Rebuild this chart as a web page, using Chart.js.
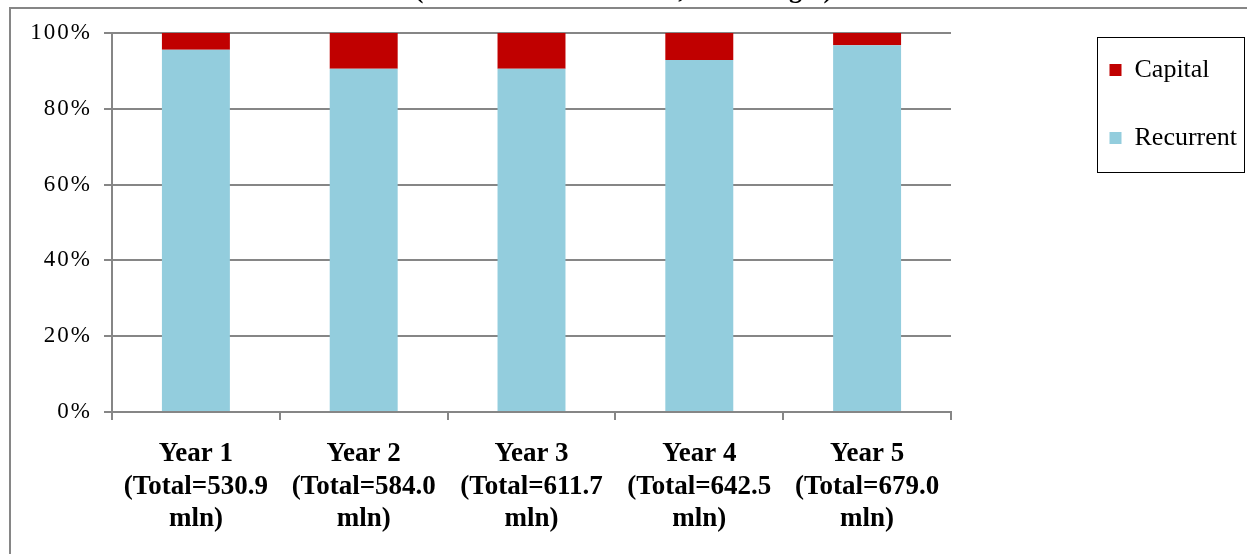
<!DOCTYPE html>
<html>
<head>
<meta charset="utf-8">
<title>Capital and Recurrent Costs</title>
<script src="https://cdn.jsdelivr.net/npm/chart.js@4"></script>
<style>
  html, body { margin: 0; padding: 0; background: #ffffff; }
  canvas { display: block; }
</style>
</head>
<body>
<canvas id="costChart" width="1247" height="554"></canvas>
<script>
// Category labels (three lines each)
const years = [
  ['Year 1', '(Total=530.9', 'mln)'],
  ['Year 2', '(Total=584.0', 'mln)'],
  ['Year 3', '(Total=611.7', 'mln)'],
  ['Year 4', '(Total=642.5', 'mln)'],
  ['Year 5', '(Total=679.0', 'mln)']
];
// Share of total costs, percent
const recurrentShare = [95.6, 90.6, 90.6, 92.9, 96.8];
const capitalShare = [4.4, 9.4, 9.4, 7.1, 3.2];
const chartTitle = '(Total Costs in TSh mln, Percentages)';

const SERIF = "'Liberation Serif', 'Times New Roman', serif";
const AXIS_GREY = '#868686';

// White page, grey outer frame, boxed legend, wide-set y tick labels
const decorations = {
  id: 'decorations',
  beforeDraw(chart) {
    const ctx = chart.ctx;
    ctx.save();
    ctx.fillStyle = '#ffffff';
    ctx.fillRect(0, 0, chart.width, chart.height);
    ctx.strokeStyle = AXIS_GREY;
    ctx.lineWidth = 2;
    ctx.strokeRect(10, 8, chart.width + 20, chart.height + 20);
    ctx.restore();
  },
  afterDatasetsDraw(chart) {
    // the y tick labels are drawn after this point (ticks.z = 1)
    chart.ctx.letterSpacing = '2px';
  },
  afterDraw(chart) {
    const ctx = chart.ctx;
    ctx.letterSpacing = '0px';
    const lg = chart.legend;
    if (!lg || !lg.legendHitBoxes || lg.legendHitBoxes.length < 2) return;
    const first = lg.legendHitBoxes[0];
    const last = lg.legendHitBoxes[lg.legendHitBoxes.length - 1];
    const x0 = Math.round(first.left - 12) + 0.5;
    const y0 = Math.round(first.top - 20) + 0.5;
    const x1 = Math.round(lg.right - 3) + 0.5;
    const y1 = Math.round(last.top + last.height + 21) + 0.5;
    ctx.save();
    ctx.strokeStyle = '#000000';
    ctx.lineWidth = 1;
    ctx.strokeRect(x0, y0, x1 - x0, y1 - y0);
    ctx.restore();
  }
};

new Chart(document.getElementById('costChart'), {
  type: 'bar',
  data: {
    labels: years,
    datasets: [
      {
        label: 'Recurrent',
        data: recurrentShare,
        backgroundColor: '#93CDDD',
        borderColor: '#93CDDD',
        borderWidth: 0
      },
      {
        label: 'Capital',
        data: capitalShare,
        backgroundColor: '#C00000',
        borderColor: '#C00000',
        borderWidth: 0
      }
    ]
  },
  options: {
    responsive: false,
    animation: false,
    devicePixelRatio: 1,
    layout: { padding: { top: 15, left: 0, right: 0, bottom: 0 } },
    datasets: {
      bar: { categoryPercentage: 1.0, barPercentage: 0.405 }
    },
    plugins: {
      title: {
        display: true,
        text: chartTitle,
        color: '#000000',
        font: { family: SERIF, size: 26, weight: 'bold' },
        padding: { top: -39.6, bottom: 26.4 }
      },
      legend: {
        display: true,
        position: 'right',
        align: 'start',
        reverse: true,
        labels: {
          color: '#000000',
          font: { family: SERIF, size: 26 },
          boxWidth: 12,
          boxHeight: 12,
          padding: 42
        }
      },
      tooltip: { enabled: false }
    },
    scales: {
      x: {
        stacked: true,
        offset: true,
        grid: {
          display: true,
          offset: true,
          drawOnChartArea: false,
          drawTicks: true,
          tickLength: 8,
          color: AXIS_GREY,
          lineWidth: 2
        },
        border: { display: true, color: AXIS_GREY, width: 2 },
        ticks: {
          color: '#000000',
          font: { family: SERIF, size: 27, weight: 'bold', lineHeight: 1.2 },
          padding: 18,
          maxRotation: 0,
          autoSkip: false
        },
        afterFit(scale) { scale.height = 142; }
      },
      y: {
        stacked: true,
        min: 0,
        max: 100,
        grid: {
          color: AXIS_GREY,
          lineWidth: 2,
          drawTicks: true,
          tickLength: 8
        },
        border: { display: true, color: AXIS_GREY, width: 2 },
        ticks: {
          z: 1,
          stepSize: 20,
          color: '#000000',
          font: { family: SERIF, size: 23 },
          padding: 12,
          callback: (v) => v + '%'
        },
        afterFit(scale) { scale.width = 112; }
      },
      gap: {
        type: 'linear',
        position: 'right',
        display: true,
        grid: { display: false, drawTicks: false },
        border: { display: false },
        ticks: { display: false },
        afterFit(scale) {
          const lg = scale.chart.legend;
          const legendW = lg ? lg.width : 0;
          scale.width = Math.max(0, scale.chart.width - 951 - legendW);
        }
      }
    }
  },
  plugins: [decorations]
});
</script>
</body>
</html>
